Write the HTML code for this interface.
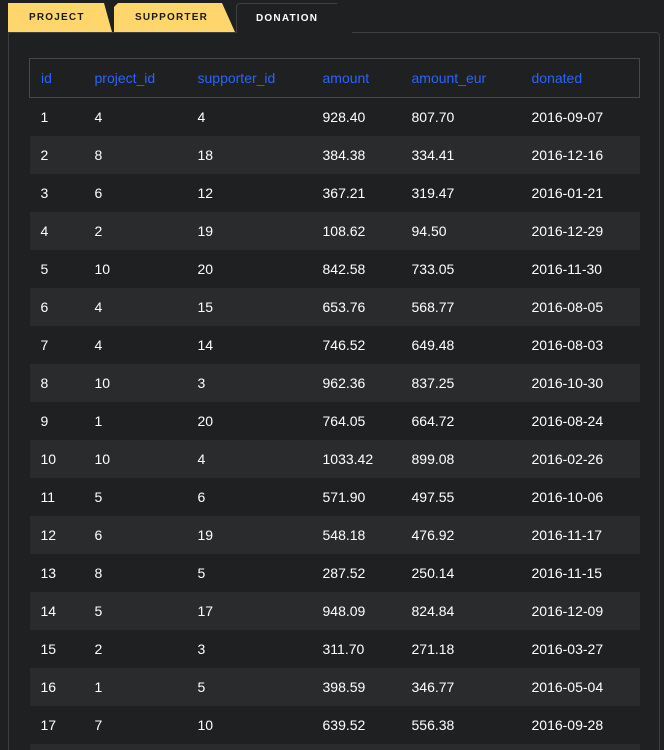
<!DOCTYPE html>
<html><head><meta charset="utf-8">
<style>
*{box-sizing:border-box;margin:0;padding:0}
html{width:664px;height:750px;overflow:hidden}
body{width:664px;height:750px;background:#1f2022;overflow:hidden;position:relative;font-family:"Liberation Sans",Arial,sans-serif;color:#fff}
.tab{position:absolute;top:3px;height:29px;font-size:10px;font-weight:bold;letter-spacing:1.2px;line-height:30px}
.tab.y{background:#ffd66b;color:#1a1a1a}
#t1{left:8px;width:104px;padding-left:21px;clip-path:polygon(0 0,96px 0,104px 29px,0 29px)}
#t2{left:114px;width:121px;padding-left:21px;clip-path:polygon(4px 0,108px 0,121px 29px,0 29px,0 4px)}
#t3{left:236px;width:117px;height:30px;border:1px solid #3d3e40;border-bottom:none;border-radius:4px 0 0 0;padding-left:19px;background:#1f2022;color:#fff;z-index:2;clip-path:polygon(0 0,101px 0,117px 30px,0 30px)}
#panel{position:absolute;left:8px;top:32px;width:652px;height:730px;border:1px solid #3d3e40;border-radius:0 4px 0 0}
table{position:absolute;left:29px;top:58px;width:610px;border-collapse:collapse;font-size:14px;table-layout:fixed}
th{height:39px;color:#2b63ff;font-weight:normal;text-align:left;border-top:1px solid #47484a;border-bottom:1px solid #47484a}
th:first-child{border-left:1px solid #47484a}th:last-child{border-right:1px solid #47484a}
td{height:38px}
th,td{padding:0}
th:first-child,td:first-child{padding-left:11px}
tr.e td{background:#2a2b2d}
</style></head><body>
<div class="tab y" id="t1">PROJECT</div>
<div class="tab y" id="t2">SUPPORTER</div>
<div class="tab" id="t3">DONATION</div>
<div id="panel"></div>
<table>
<colgroup><col style="width:65px"><col style="width:103px"><col style="width:125px"><col style="width:89px"><col style="width:120px"><col style="width:108px"></colgroup>
<thead><tr><th>id</th><th>project_id</th><th>supporter_id</th><th>amount</th><th>amount_eur</th><th>donated</th></tr></thead>
<tbody>
<tr><td>1</td><td>4</td><td>4</td><td>928.40</td><td>807.70</td><td>2016-09-07</td></tr>
<tr class="e"><td>2</td><td>8</td><td>18</td><td>384.38</td><td>334.41</td><td>2016-12-16</td></tr>
<tr><td>3</td><td>6</td><td>12</td><td>367.21</td><td>319.47</td><td>2016-01-21</td></tr>
<tr class="e"><td>4</td><td>2</td><td>19</td><td>108.62</td><td>94.50</td><td>2016-12-29</td></tr>
<tr><td>5</td><td>10</td><td>20</td><td>842.58</td><td>733.05</td><td>2016-11-30</td></tr>
<tr class="e"><td>6</td><td>4</td><td>15</td><td>653.76</td><td>568.77</td><td>2016-08-05</td></tr>
<tr><td>7</td><td>4</td><td>14</td><td>746.52</td><td>649.48</td><td>2016-08-03</td></tr>
<tr class="e"><td>8</td><td>10</td><td>3</td><td>962.36</td><td>837.25</td><td>2016-10-30</td></tr>
<tr><td>9</td><td>1</td><td>20</td><td>764.05</td><td>664.72</td><td>2016-08-24</td></tr>
<tr class="e"><td>10</td><td>10</td><td>4</td><td>1033.42</td><td>899.08</td><td>2016-02-26</td></tr>
<tr><td>11</td><td>5</td><td>6</td><td>571.90</td><td>497.55</td><td>2016-10-06</td></tr>
<tr class="e"><td>12</td><td>6</td><td>19</td><td>548.18</td><td>476.92</td><td>2016-11-17</td></tr>
<tr><td>13</td><td>8</td><td>5</td><td>287.52</td><td>250.14</td><td>2016-11-15</td></tr>
<tr class="e"><td>14</td><td>5</td><td>17</td><td>948.09</td><td>824.84</td><td>2016-12-09</td></tr>
<tr><td>15</td><td>2</td><td>3</td><td>311.70</td><td>271.18</td><td>2016-03-27</td></tr>
<tr class="e"><td>16</td><td>1</td><td>5</td><td>398.59</td><td>346.77</td><td>2016-05-04</td></tr>
<tr><td>17</td><td>7</td><td>10</td><td>639.52</td><td>556.38</td><td>2016-09-28</td></tr>
<tr class="e"><td></td><td></td><td></td><td></td><td></td><td></td></tr>
</tbody></table>
</body></html>
